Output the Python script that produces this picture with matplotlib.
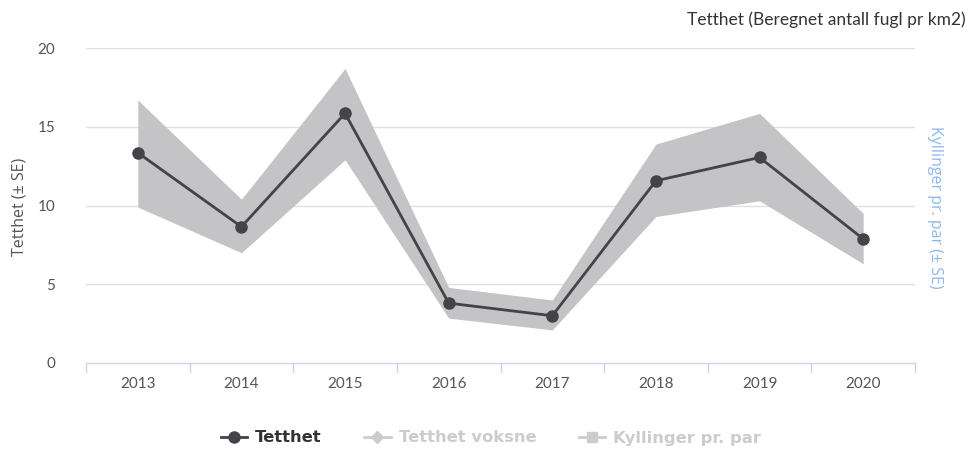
import matplotlib
matplotlib.use("Agg")
import matplotlib.pyplot as plt
from matplotlib.lines import Line2D
import numpy as np

years = ["2013", "2014", "2015", "2016", "2017", "2018", "2019", "2020"]
tetthet = [13.35, 8.65, 15.85, 3.8, 3.0, 11.57, 13.05, 7.88]
se_high = [16.7, 10.4, 18.7, 4.8, 4.0, 13.9, 15.85, 9.5]
se_low = [9.9, 7.0, 12.9, 2.85, 2.1, 9.3, 10.3, 6.3]
yticks = [0, 5, 10, 15, 20]
legend_labels = ["Tetthet", "Tetthet voksne", "Kyllinger pr. par"]

fig = plt.figure(figsize=(9.73, 4.5), dpi=100)
ax = fig.add_axes([86/973, 1-363/450, (915-86)/973, (363-48)/450])

x = np.arange(len(years))
ax.fill_between(x, se_low, se_high, color="#c4c4c6", lw=0, zorder=1)
ax.plot(x, tetthet, color="#434348", lw=2, marker="o", ms=8, zorder=3)

ax.set_xlim(-0.5, len(years) - 0.5)
ax.set_ylim(0, 20)
ax.set_yticks(yticks)
ax.set_yticklabels([str(v) for v in yticks], fontfamily="Lato", fontsize=11, color="#555555")
ax.set_xticks(x)
ax.set_xticklabels(years, fontfamily="Lato", fontsize=11, color="#555555")
ax.tick_params(axis="y", length=0, pad=22)
ax.tick_params(axis="x", length=0, pad=10)
for v in yticks[1:]:
    ax.axhline(v, color="#e0e0e0", lw=1, zorder=0)
for s in ["top", "right", "left"]:
    ax.spines[s].set_visible(False)
ax.spines["bottom"].set_color("#ccd6eb")
ax.spines["bottom"].set_linewidth(1)
# category boundary ticks
for b in np.arange(-0.5, len(years), 1.0):
    ax.plot([b, b], [0, -0.6], color="#ccd6eb", lw=1, clip_on=False, zorder=0)

fig.text(20/973, 1-207/450, "Tetthet (± SE)", rotation=90, ha="center", va="center",
         fontfamily="Open Sans", fontsize=11.5, color="#555555")
fig.text(935/973, 1-207/450, "Kyllinger pr. par (± SE)", rotation=-90, ha="center", va="center",
         fontfamily="Open Sans", fontsize=11.5, color="#8fb8ea")
fig.text(966/973, 1-20/450, "Tetthet (Beregnet antall fugl pr km2)", ha="right", va="center",
         fontfamily="Lato", fontsize=12.5, color="#333333")

handles = [
    Line2D([0], [0], color="#434348", lw=2, marker="o", ms=8),
    Line2D([0], [0], color="#cccccc", lw=2, marker="D", ms=6),
    Line2D([0], [0], color="#cccccc", lw=2, marker="s", ms=7),
]
leg = fig.legend(handles, legend_labels, loc="center", bbox_to_anchor=(491/973, 1-438/450),
                 ncol=3, frameon=False, handlelength=1.6, columnspacing=2.6, handletextpad=0.5,
                 prop={"family": "DejaVu Sans", "weight": "bold", "size": 11.8})
cols = ["#333333", "#cccccc", "#cccccc"]
for t, c in zip(leg.get_texts(), cols):
    t.set_color(c)

fig.savefig("out.png", dpi=100)
